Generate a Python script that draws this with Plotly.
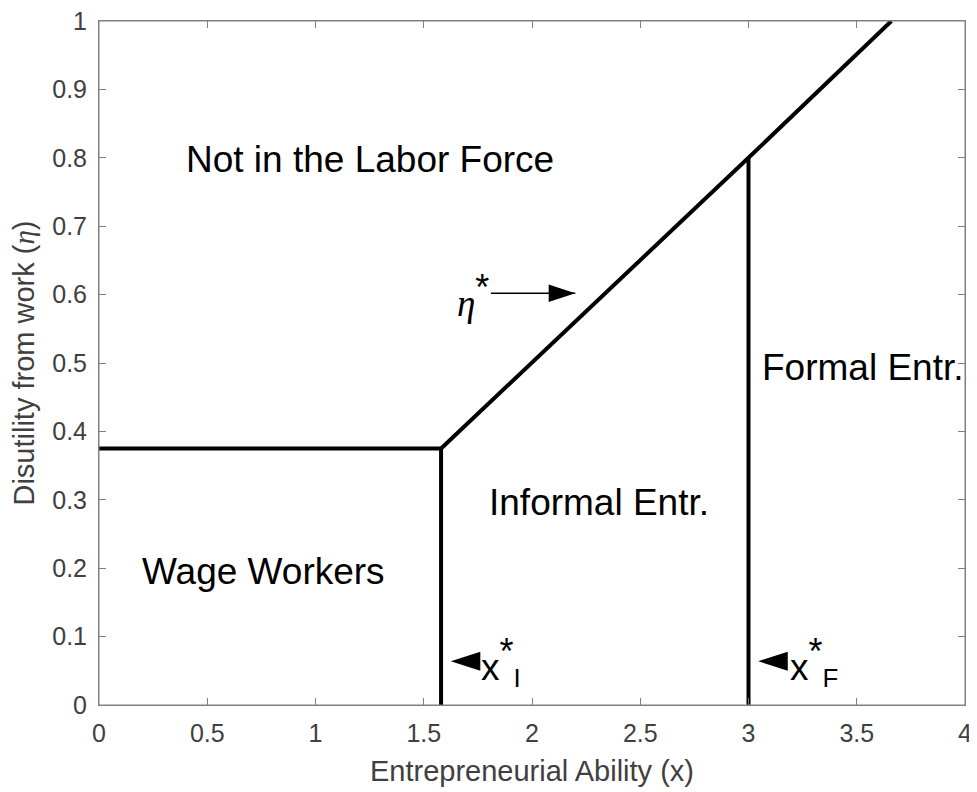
import plotly.graph_objects as go

# Boundary lines
kink_x = 1.58
kink_y = 0.375
formal_x = 3.0
formal_y = 0.8
top_x = 3.66
top_y = 1.0

wage_x = [0, kink_x]
wage_y = [kink_y, kink_y]
eta_x = [kink_x, formal_x, top_x]
eta_y = [kink_y, formal_y, top_y]
xi_x = [kink_x, kink_x]
xi_y = [0, kink_y]
xf_x = [formal_x, formal_x]
xf_y = [0, formal_y]

region_labels = ["Not in the Labor Force", "Wage Workers", "Informal Entr.", "Formal Entr."]
region_x = [1.25, 0.76, 2.31, 3.53]
region_y = [0.797, 0.195, 0.296, 0.494]

# eta* pointer arrow (tail, head)
eta_arrow_x = [1.81, 2.2]
eta_arrow_y = [0.602, 0.602]
# x* pointer arrows (heads point left)
xstar_head_x = [1.625, 3.045]
xstar_head_y = [0.064, 0.064]
xstar_label_x = [1.755, 3.183]
STAR = "<sup><span style='font-size:36px'>*</span></sup>"
xstar_labels = ["x" + STAR + "<sub>I</sub>", "x" + STAR + "<sub>F</sub>"]

x_ticks = [0, 0.5, 1, 1.5, 2, 2.5, 3, 3.5, 4]
x_tick_text = ["0", "0.5", "1", "1.5", "2", "2.5", "3", "3.5", "4"]
y_ticks = [0, 0.1, 0.2, 0.3, 0.4, 0.5, 0.6, 0.7, 0.8, 0.9, 1]
y_tick_text = ["0", "0.1", "0.2", "0.3", "0.4", "0.5", "0.6", "0.7", "0.8", "0.9", "1"]

FONT = "Arial, Liberation Sans, sans-serif"
SERIF = "Liberation Serif"
AXIS_GREY = "#808080"

fig = go.Figure()
for xs, ys in [(wage_x, wage_y), (eta_x, eta_y), (xi_x, xi_y), (xf_x, xf_y)]:
    fig.add_trace(go.Scatter(x=xs, y=ys, mode="lines",
                             line=dict(color="black", width=4),
                             showlegend=False, hoverinfo="skip"))

font_big = dict(family=FONT, size=37, color="black")
for t, x, y in zip(region_labels, region_x, region_y):
    fig.add_annotation(x=x, y=y, text=t, showarrow=False, font=font_big)

# eta* arrow: shaft + head
fig.add_trace(go.Scatter(x=eta_arrow_x, y=eta_arrow_y, mode="lines",
                         line=dict(color="black", width=1.5),
                         showlegend=False, hoverinfo="skip"))
fig.add_trace(go.Scatter(x=[eta_arrow_x[1]], y=[eta_arrow_y[1]], mode="markers",
                         marker=dict(symbol="arrow", angle=90, size=28, color="black",
                                     line=dict(width=0)),
                         showlegend=False, hoverinfo="skip"))
fig.add_annotation(x=eta_arrow_x[0], y=eta_arrow_y[0] - 0.004,
                   text=f"<span style='font-family:{SERIF}'><i>η</i></span>" + STAR,
                   showarrow=False, xanchor="right", font=font_big)

# x* arrows
for hx, hy, lx, lab in zip(xstar_head_x, xstar_head_y, xstar_label_x, xstar_labels):
    fig.add_trace(go.Scatter(x=[hx], y=[hy], mode="markers",
                             marker=dict(symbol="arrow", angle=-90, size=31, color="black",
                                         line=dict(width=0)),
                             showlegend=False, hoverinfo="skip"))
    fig.add_annotation(x=lx, y=hy, text=lab, showarrow=False,
                       xanchor="left", font=font_big)

# invisible trace to create the top (box) axis
fig.add_trace(go.Scatter(x=[0], y=[0], xaxis="x2", mode="markers",
                         marker=dict(opacity=0), showlegend=False, hoverinfo="skip"))

axis_common = dict(showgrid=False, zeroline=False, showline=True, linecolor=AXIS_GREY,
                   linewidth=1, mirror="ticks", ticks="inside", ticklen=7,
                   tickcolor=AXIS_GREY, automargin=False, ticklabelstandoff=6,
                   ticklabeloverflow="allow",
                   tickfont=dict(family=FONT, size=25, color="#404040"))

fig.update_xaxes(range=[0, 4], tickvals=x_ticks, ticktext=x_tick_text,
                 title=dict(text="Entrepreneurial Ability (x)",
                            font=dict(family=FONT, size=29, color="#404040"),
                            standoff=14),
                 **axis_common)
fig.update_yaxes(range=[0, 1], tickvals=y_ticks, ticktext=y_tick_text,
                 title=dict(text=f"Disutility from work (<span style='font-family:{SERIF}'><i>η</i></span>)",
                            font=dict(family=FONT, size=29, color="#404040"),
                            standoff=10),
                 **axis_common)

# box outline around the plotting area
fig.add_shape(type="rect", xref="paper", yref="paper", x0=0, x1=1, y0=0, y1=1,
              line=dict(color=AXIS_GREY, width=1), layer="above")

fig.update_layout(
    xaxis2=dict(overlaying="x", side="top", anchor="y", range=[0, 4], tickvals=x_ticks,
                showticklabels=False, showgrid=False, zeroline=False, showline=True,
                linecolor=AXIS_GREY, linewidth=1, ticks="inside", ticklen=7,
                tickcolor=AXIS_GREY, automargin=False),
    # page body has an 8px margin, so the figure is shrunk and margins shifted accordingly
    width=969, height=783, margin=dict(l=91, r=12, t=13, b=86),
    plot_bgcolor="white", paper_bgcolor="white")

fig.write_html("out.html")
